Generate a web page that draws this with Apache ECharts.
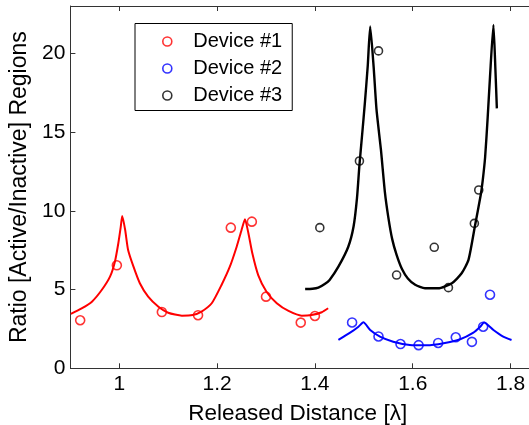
<!DOCTYPE html>
<html>
<head>
<meta charset="utf-8">
<script src="https://cdn.jsdelivr.net/npm/echarts@6/dist/echarts.min.js"></script>
<style>
html,body{margin:0;padding:0;background:#fff;}
#c{width:529px;height:425px;}
</style>
</head>
<body>
<div id="c"></div>
<script>
// ---- data ----
const xTicks = [1, 1.2, 1.4, 1.6, 1.8];
const yTicks = [0, 5, 10, 15, 20];

const dev1X = [0.920, 0.995, 1.087, 1.161, 1.228, 1.271, 1.300, 1.371, 1.400];
const dev1Y = [3.05, 6.54, 3.57, 3.37, 8.93, 9.31, 4.55, 2.90, 3.32];

const dev2X = [1.476, 1.530, 1.575, 1.612, 1.652, 1.688, 1.721, 1.744, 1.758];
const dev2Y = [2.91, 2.02, 1.54, 1.47, 1.61, 1.97, 1.68, 2.64, 4.67];

const dev3X = [1.410, 1.491, 1.530, 1.567, 1.644, 1.673, 1.726, 1.735];
const dev3Y = [8.93, 13.16, 20.15, 5.92, 7.68, 5.12, 9.20, 11.32];

const fit1X = [0.901, 0.923, 0.944, 0.964, 0.981, 0.991, 0.998, 1.003, 1.006, 1.012, 1.018, 1.029, 1.042, 1.059, 1.080, 1.100, 1.128, 1.150, 1.168, 1.189, 1.209, 1.226, 1.240, 1.250, 1.257, 1.264, 1.272, 1.284, 1.301, 1.322, 1.346, 1.373, 1.393, 1.414, 1.427];
const fit1Y = [3.45, 3.80, 4.23, 4.97, 5.82, 6.77, 7.94, 8.99, 9.67, 8.78, 7.51, 6.45, 5.40, 4.55, 3.91, 3.53, 3.34, 3.38, 3.60, 4.13, 5.29, 6.45, 7.72, 8.78, 9.46, 8.57, 7.30, 5.92, 4.86, 4.13, 3.64, 3.34, 3.38, 3.56, 3.81];

const fit2X = [1.448, 1.472, 1.489, 1.499, 1.513, 1.533, 1.560, 1.594, 1.629, 1.663, 1.697, 1.724, 1.738, 1.746, 1.765, 1.785, 1.802];
const fit2Y = [1.80, 2.26, 2.64, 2.92, 2.43, 2.01, 1.69, 1.48, 1.46, 1.59, 1.84, 2.26, 2.64, 2.90, 2.43, 2.01, 1.80];

const fit3X = [1.380, 1.395, 1.407, 1.420, 1.430, 1.448, 1.468, 1.479, 1.486, 1.491, 1.497, 1.502, 1.508, 1.513, 1.520, 1.526, 1.535, 1.543, 1.550, 1.558, 1.567, 1.578, 1.590, 1.605, 1.625, 1.652, 1.680, 1.700, 1.714, 1.727, 1.739, 1.743, 1.748, 1.753, 1.758, 1.765, 1.769, 1.772];
const fit3Y = [5.03, 5.05, 5.12, 5.35, 5.61, 6.45, 7.70, 9.00, 10.8, 12.9, 15.0, 16.8, 19.2, 21.7, 19.15, 16.4, 13.86, 11.2, 9.6, 8.2, 7.2, 6.3, 5.7, 5.3, 5.08, 5.08, 5.40, 6.03, 6.88, 9.0, 11.0, 11.9, 13.4, 15.8, 18.5, 21.8, 19.0, 16.5];

const names = ['Device #1', 'Device #2', 'Device #3'];
const colors = ['#ff0000', '#0000ff', '#000000'];

// ---- build ----
const zip = (a, b) => a.map((v, i) => [v, b[i]]);
const FONT = 'Liberation Sans, Arial, Helvetica, sans-serif';

const scatterSets = [[dev1X, dev1Y], [dev2X, dev2Y], [dev3X, dev3Y]];
const fitSets = [[fit1X, fit1Y], [fit2X, fit2Y], [fit3X, fit3Y]];

const series = [];
fitSets.forEach((s, i) => {
  series.push({
    name: 'fit' + i, type: 'line', data: zip(s[0], s[1]),
    showSymbol: false, symbol: 'none', silent: true, animation: false,
    smooth: 0.2,
    lineStyle: { color: colors[i], width: i === 2 ? 2.4 : 2 },
    z: 2
  });
});
scatterSets.forEach((s, i) => {
  series.push({
    name: names[i], type: 'scatter', data: zip(s[0], s[1]),
    symbol: 'circle', symbolSize: i === 2 ? 8 : 9, animation: false,
    itemStyle: { color: 'rgba(255,255,255,0)', borderColor: colors[i], borderWidth: 1.6 },
    z: 3
  });
});

const axisLineStyle = { color: '#333', width: 1 };

const option = {
  backgroundColor: '#fff',
  animation: false,
  grid: { left: 70.4, top: 6, width: 464.6, height: 362.3, containLabel: false, outerBoundsMode: 'none' },
  legend: {
    orient: 'vertical',
    left: 135, top: 23.5,
    padding: [8, 10, 5, 27],
    itemGap: 7,
    itemWidth: 42, itemHeight: 9,
    symbolKeepAspect: true,
    borderColor: '#000', borderWidth: 1,
    backgroundColor: '#fff',
    textStyle: { fontFamily: FONT, fontSize: 20, color: '#000' },
    data: names.map((n, i) => ({
      name: n, icon: 'circle',
      itemStyle: { color: 'rgba(255,255,255,0)', borderColor: colors[i], borderWidth: 1.6 }
    }))
  },
  xAxis: [
    {
      type: 'value', min: 0.9, max: 1.85, position: 'bottom',
      name: 'Released Distance [\u03bb]', nameLocation: 'middle', nameGap: 34,
      nameTextStyle: { fontFamily: FONT, fontSize: 22.5, color: '#000', padding: [0, 10, 0, 0] },
      axisLine: { show: true, onZero: false, lineStyle: axisLineStyle },
      axisTick: { show: true, inside: true, length: 5, customValues: xTicks, lineStyle: axisLineStyle },
      axisLabel: { show: true, customValues: xTicks, margin: 5, fontFamily: FONT, fontSize: 21, color: '#000' },
      splitLine: { show: false }
    },
    {
      type: 'value', min: 0.9, max: 1.85, position: 'top',
      axisLine: { show: true, onZero: false, lineStyle: axisLineStyle },
      axisTick: { show: true, inside: true, length: 5, customValues: xTicks, lineStyle: axisLineStyle },
      axisLabel: { show: false },
      splitLine: { show: false }
    }
  ],
  yAxis: [
    {
      type: 'value', min: 0, max: 23, interval: 5, position: 'left',
      name: 'Ratio [Active/Inactive] Regions', nameLocation: 'middle', nameGap: 23, nameRotate: 90,
      nameTextStyle: { fontFamily: FONT, fontSize: 23, color: '#000' },
      axisLine: { show: true, onZero: false, lineStyle: axisLineStyle },
      axisTick: { show: true, inside: true, length: 5, customValues: yTicks, lineStyle: axisLineStyle },
      axisLabel: { show: true, customValues: yTicks, margin: 5, fontFamily: FONT, fontSize: 21, color: '#000' },
      splitLine: { show: false }
    },
    {
      type: 'value', min: 0, max: 23, interval: 5, position: 'right',
      axisLine: { show: true, onZero: false, lineStyle: axisLineStyle },
      axisTick: { show: true, inside: true, length: 5, customValues: yTicks, lineStyle: axisLineStyle },
      axisLabel: { show: false },
      splitLine: { show: false }
    }
  ],
  series: series
};

const chart = echarts.init(document.getElementById('c'), null, { renderer: 'canvas' });
chart.setOption(option);
</script>
</body>
</html>
